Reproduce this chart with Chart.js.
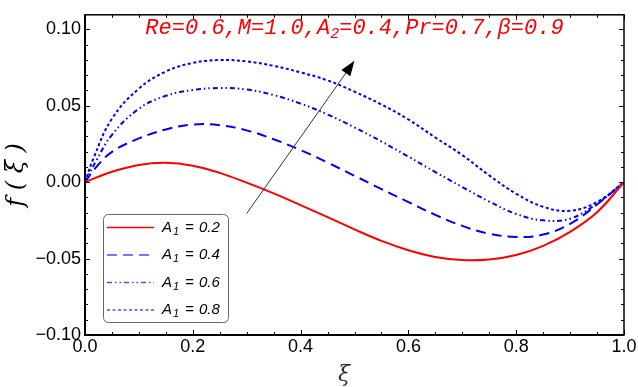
<!DOCTYPE html>
<html>
<head>
<meta charset="utf-8">
<script src="https://cdn.jsdelivr.net/npm/chart.js@4/dist/chart.umd.min.js"></script>
<style>
  body { margin: 0; background: #fff; }
</style>
</head>
<body>
<canvas id="chart" width="638" height="387"></canvas>
<script>
// f(ξ), one xi/f pair per curve
const xiA02 = [0, 0.05, 0.1, 0.15, 0.2, 0.25, 0.3, 0.35, 0.4, 0.45, 0.5, 0.55, 0.6, 0.65, 0.7, 0.75, 0.8, 0.85, 0.9, 0.95, 1];
const fA02  = [0, 0.0068, 0.0113, 0.0127, 0.0108, 0.0061, -0.0003, -0.0073, -0.0150, -0.0229, -0.0309, -0.0384, -0.0445, -0.0489, -0.0510, -0.0506, -0.0477, -0.0417, -0.0325, -0.0197, 0];

const xiA04 = [0, 0.02, 0.05, 0.1, 0.15, 0.2, 0.25, 0.3, 0.35, 0.4, 0.45, 0.5, 0.55, 0.6, 0.65, 0.7, 0.75, 0.8, 0.85, 0.9, 0.95, 1];
const fA04  = [0, 0.0095, 0.0198, 0.0286, 0.0345, 0.0377, 0.0373, 0.0339, 0.0281, 0.0210, 0.0128, 0.0042, -0.0045, -0.0130, -0.0214, -0.0286, -0.0337, -0.0358, -0.0343, -0.0273, -0.0146, 0];

const xiA06 = [0, 0.02, 0.05, 0.1, 0.15, 0.2, 0.25, 0.3, 0.35, 0.4, 0.45, 0.5, 0.55, 0.6, 0.65, 0.7, 0.75, 0.8, 0.85, 0.9, 0.95, 1];
const fA06  = [0, 0.0135, 0.0310, 0.0480, 0.0565, 0.0603, 0.0616, 0.0606, 0.0570, 0.0514, 0.0443, 0.0358, 0.0266, 0.0167, 0.0066, -0.0032, -0.0127, -0.0208, -0.0250, -0.0239, -0.0140, 0];

const xiA08 = [0, 0.015, 0.05, 0.1, 0.15, 0.2, 0.25, 0.3, 0.35, 0.4, 0.45, 0.5, 0.55, 0.6, 0.65, 0.7, 0.75, 0.8, 0.85, 0.9, 0.95, 1];
const fA08  = [0, 0.0150, 0.0415, 0.0612, 0.0724, 0.0780, 0.0799, 0.0790, 0.0761, 0.0718, 0.0666, 0.0592, 0.0508, 0.0410, 0.0292, 0.0177, 0.0044, -0.0076, -0.0161, -0.0187, -0.0130, 0];

const a1Values = ['0.2', '0.4', '0.6', '0.8'];

const xTicks = [0, 0.2, 0.4, 0.6, 0.8, 1.0];
const xTickLabels = ['0.0', '0.2', '0.4', '0.6', '0.8', '1.0'];
const yTicks = [-0.10, -0.05, 0, 0.05, 0.10];
const yTickLabels = ['\u22120.10', '\u22120.05', '0.00', '0.05', '0.10'];

// parameter note (A with subscript 2 in the middle) and the arrow, in data units
const noteParts = ['Re=0.6,M=1.0,A', '2', '=0.4,Pr=0.7,\u03b2=0.9'];
const noteAt = [0.5, 0.1005];
const arrowFrom = [0.30, -0.0205];
const arrowTo = [0.50, 0.0794];

const styles = [
  { color: '#ff0000', dash: [] },
  { color: '#0000ff', dash: [10, 6] },
  { color: '#0000ff', dash: [5, 3, 1.5, 3, 1.5, 3] },
  { color: '#0000ff', dash: [3, 2.5] }
];

function pts(xs, ys) {
  return xs.map((x, i) => ({ x: x, y: ys[i] }));
}

const curves = [pts(xiA02, fA02), pts(xiA04, fA04), pts(xiA06, fA06), pts(xiA08, fA08)];

const extras = {
  id: 'extras',
  afterDraw(chart) {
    const ctx = chart.ctx, a = chart.chartArea;
    const xs = chart.scales.x, ys = chart.scales.y;
    ctx.save();

    // frame
    ctx.strokeStyle = '#000';
    ctx.lineWidth = 1.5;
    ctx.strokeRect(a.left, a.top, a.right - a.left, a.bottom - a.top);
    ctx.lineWidth = 2;
    ctx.beginPath();
    ctx.moveTo(a.left, a.top); ctx.lineTo(a.left, a.bottom); ctx.lineTo(a.right, a.bottom);
    ctx.stroke();

    // inward ticks on all four sides
    ctx.lineWidth = 1;
    ctx.beginPath();
    for (let i = 0; i <= 20; i++) {
      const px = Math.round(xs.getPixelForValue(i * 0.05)) + 0.5;
      const len = i % 4 === 0 ? 5 : 3;
      ctx.moveTo(px, a.bottom); ctx.lineTo(px, a.bottom - len);
      ctx.moveTo(px, a.top); ctx.lineTo(px, a.top + len);
    }
    for (let i = -10; i <= 10; i++) {
      const py = Math.round(ys.getPixelForValue(i * 0.01)) + 0.5;
      const len = i % 5 === 0 ? 5 : 3;
      ctx.moveTo(a.left, py); ctx.lineTo(a.left + len, py);
      ctx.moveTo(a.right, py); ctx.lineTo(a.right - len, py);
    }
    ctx.stroke();

    // arrow
    const x0 = xs.getPixelForValue(arrowFrom[0]), y0 = ys.getPixelForValue(arrowFrom[1]);
    const x1 = xs.getPixelForValue(arrowTo[0]), y1 = ys.getPixelForValue(arrowTo[1]);
    const ang = Math.atan2(y1 - y0, x1 - x0);
    const hl = 15, hw = 5.5;
    const bx = x1 - hl * Math.cos(ang), by = y1 - hl * Math.sin(ang);
    ctx.strokeStyle = '#333';
    ctx.lineWidth = 1;
    ctx.beginPath();
    ctx.moveTo(x0, y0); ctx.lineTo(bx, by);
    ctx.stroke();
    ctx.fillStyle = '#000';
    ctx.beginPath();
    ctx.moveTo(x1, y1);
    ctx.lineTo(bx + hw * Math.sin(ang), by - hw * Math.cos(ang));
    ctx.lineTo(bx - hw * Math.sin(ang), by + hw * Math.cos(ang));
    ctx.closePath();
    ctx.fill();

    // parameter note
    const big = 'italic 22px "Liberation Mono"', small = 'italic 15px "Liberation Mono"';
    ctx.font = big;
    const w0 = ctx.measureText(noteParts[0]).width, w2 = ctx.measureText(noteParts[2]).width;
    ctx.font = small;
    const w1 = ctx.measureText(noteParts[1]).width;
    let nx = xs.getPixelForValue(noteAt[0]) - (w0 + w1 + w2) / 2;
    const ny = ys.getPixelForValue(noteAt[1]);
    ctx.fillStyle = '#ff0000';
    ctx.textBaseline = 'middle';
    ctx.textAlign = 'left';
    ctx.font = big; ctx.fillText(noteParts[0], nx, ny); nx += w0;
    ctx.font = small; ctx.fillText(noteParts[1], nx, ny + 5); nx += w1;
    ctx.font = big; ctx.fillText(noteParts[2], nx, ny);

    // legend box
    const lx = 103, ly = 214, lw = 125, lh = 108, r = 5;
    ctx.fillStyle = '#fff';
    ctx.strokeStyle = '#666';
    ctx.lineWidth = 1;
    ctx.beginPath();
    ctx.roundRect(lx + 0.5, ly + 0.5, lw, lh, r);
    ctx.fill();
    ctx.stroke();
    chart.data.datasets.forEach((ds, i) => {
      const ry = ly + 13.5 + i * 27.5;
      ctx.strokeStyle = ds.borderColor;
      ctx.globalAlpha = i === 0 ? 1 : 0.7;
      ctx.lineWidth = 1.5;
      ctx.setLineDash(ds.borderDash);
      ctx.beginPath();
      ctx.moveTo(lx + 4, ry); ctx.lineTo(lx + 51, ry);
      ctx.stroke();
      ctx.setLineDash([]);
      ctx.globalAlpha = 1;
      ctx.fillStyle = '#000';
      ctx.font = 'italic 15px "Liberation Sans"';
      ctx.fillText('A', lx + 59, ry);
      ctx.font = 'italic 11px "Liberation Sans"';
      ctx.fillText('1', lx + 70, ry + 4);
      ctx.font = 'italic 15px "Liberation Sans"';
      ctx.fillText('=', lx + 82, ry);
      ctx.fillText(a1Values[i], lx + 96, ry);
    });

    ctx.restore();
  }
};

new Chart(document.getElementById('chart'), {
  type: 'line',
  data: {
    datasets: curves.map((c, i) => ({
      label: 'A1 = ' + a1Values[i],
      data: c,
      borderColor: styles[i].color,
      borderDash: styles[i].dash,
      borderWidth: 2,
      fill: false
    }))
  },
  options: {
    responsive: false,
    animation: false,
    devicePixelRatio: 1,
    layout: { padding: { top: 3, right: 14, left: 0, bottom: 0 } },
    elements: {
      point: { radius: 0 },
      line: { tension: 0.4 }
    },
    plugins: {
      legend: { display: false },
      tooltip: { enabled: false }
    },
    scales: {
      x: {
        type: 'linear',
        min: 0,
        max: 1,
        grid: { display: false, drawTicks: false },
        border: { display: false },
        afterBuildTicks: s => { s.ticks = xTicks.map(v => ({ value: v })); },
        afterFit: s => { s.height = 52; },
        ticks: {
          padding: 1,
          color: '#000',
          maxRotation: 0,
          autoSkip: false,
          font: { family: 'Liberation Sans', size: 18 },
          callback: (v, i) => xTickLabels[i]
        },
        title: {
          display: true,
          text: '\u03be   ',
          color: '#333',
          font: { family: 'DejaVu Serif', size: 22, style: 'italic', lineHeight: 1.1 },
          padding: { top: 0, bottom: 0 }
        }
      },
      y: {
        min: -0.10,
        max: 0.1095,
        grid: { display: false, drawTicks: false },
        border: { display: false },
        afterBuildTicks: s => { s.ticks = yTicks.map(v => ({ value: v })); },
        afterFit: s => { s.width = 85; },
        ticks: {
          padding: 4,
          color: '#000',
          autoSkip: false,
          font: { family: 'Liberation Sans', size: 18 },
          callback: (v, i) => yTickLabels[i]
        },
        title: {
          display: true,
          text: 'f ( \u03be )',
          color: '#000',
          font: { family: 'DejaVu Serif', size: 24, style: 'italic', lineHeight: 1.2 },
          padding: { top: 2, bottom: 0 }
        }
      }
    }
  },
  plugins: [extras]
});
</script>
</body>
</html>
